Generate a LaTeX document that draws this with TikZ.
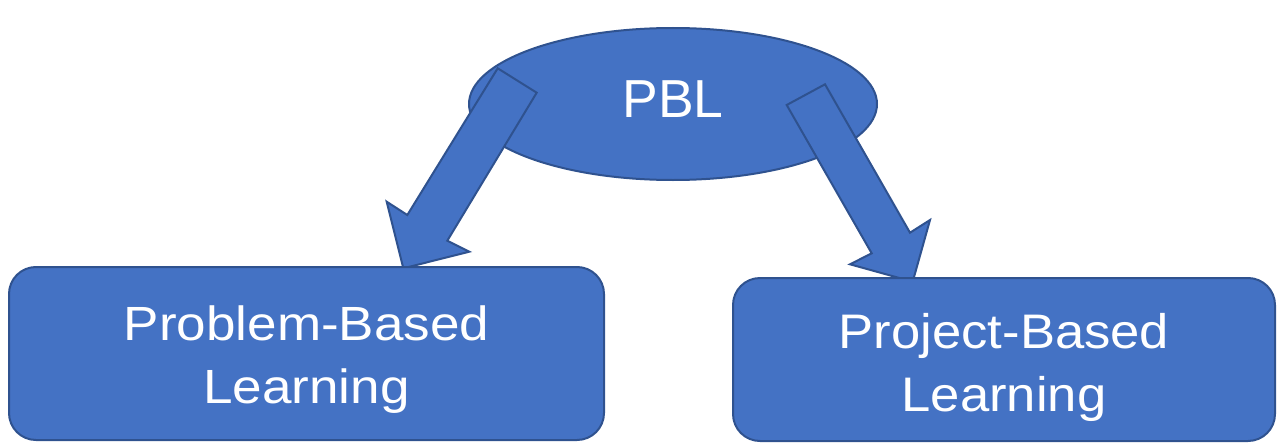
\documentclass[tikz,border=0pt]{standalone}
\usepackage{fontspec}
\setmainfont{Liberation Sans}
\newfontfamily\widefontA[FakeStretch=1.105]{Liberation Sans}
\newfontfamily\widefontB[FakeStretch=1.085]{Liberation Sans}
\usetikzlibrary{shapes.geometric}
\definecolor{pblfill}{HTML}{4472C4}
\definecolor{pblline}{HTML}{2F528F}
\begin{document}
\begin{tikzpicture}[x=1pt,y=-1pt,
  shapestyle/.style={fill=pblfill, draw=pblline, line width=2pt},
  boxstyle/.style={shapestyle, rectangle, rounded corners=27pt, inner sep=0pt},
  boxtext/.style={text=white, align=center, inner sep=0pt},
  blockarrow/.style={shapestyle, line join=miter}]
\useasboundingbox (0,0) rectangle (1279,444);
\node[shapestyle, ellipse, minimum width=408pt, minimum height=152pt, inner sep=0pt,
      text=white, font=\fontsize{53.5}{60}\selectfont, text depth=10pt] (pbl) at (673,104) {PBL};
\draw[blockarrow] (497.7,68.3) -- (536.7,92.7) -- (447.3,240.7) -- (469.3,251.7)
   -- (403.3,268.3) -- (386.7,201.7) -- (407.3,215) -- cycle;
\draw[blockarrow] (825,84.3) -- (786.7,105) -- (871.7,253.3) -- (850,264.3)
   -- (912.7,281.7) -- (930,220) -- (910,232.7) -- cycle;
\node[boxstyle, minimum width=595pt, minimum height=173pt,
      label={[boxtext, font=\widefontA\fontsize{48}{63}\selectfont, yshift=-6pt]center:{Problem-Based\\Learning}}] (prob) at (306.5,353.5) {};
\node[boxstyle, minimum width=542pt, minimum height=163pt,
      label={[boxtext, font=\widefontB\fontsize{48.5}{63}\selectfont, yshift=-8pt]center:{Project-Based\\Learning}}] (proj) at (1004,359.5) {};
\end{tikzpicture}
\end{document}
